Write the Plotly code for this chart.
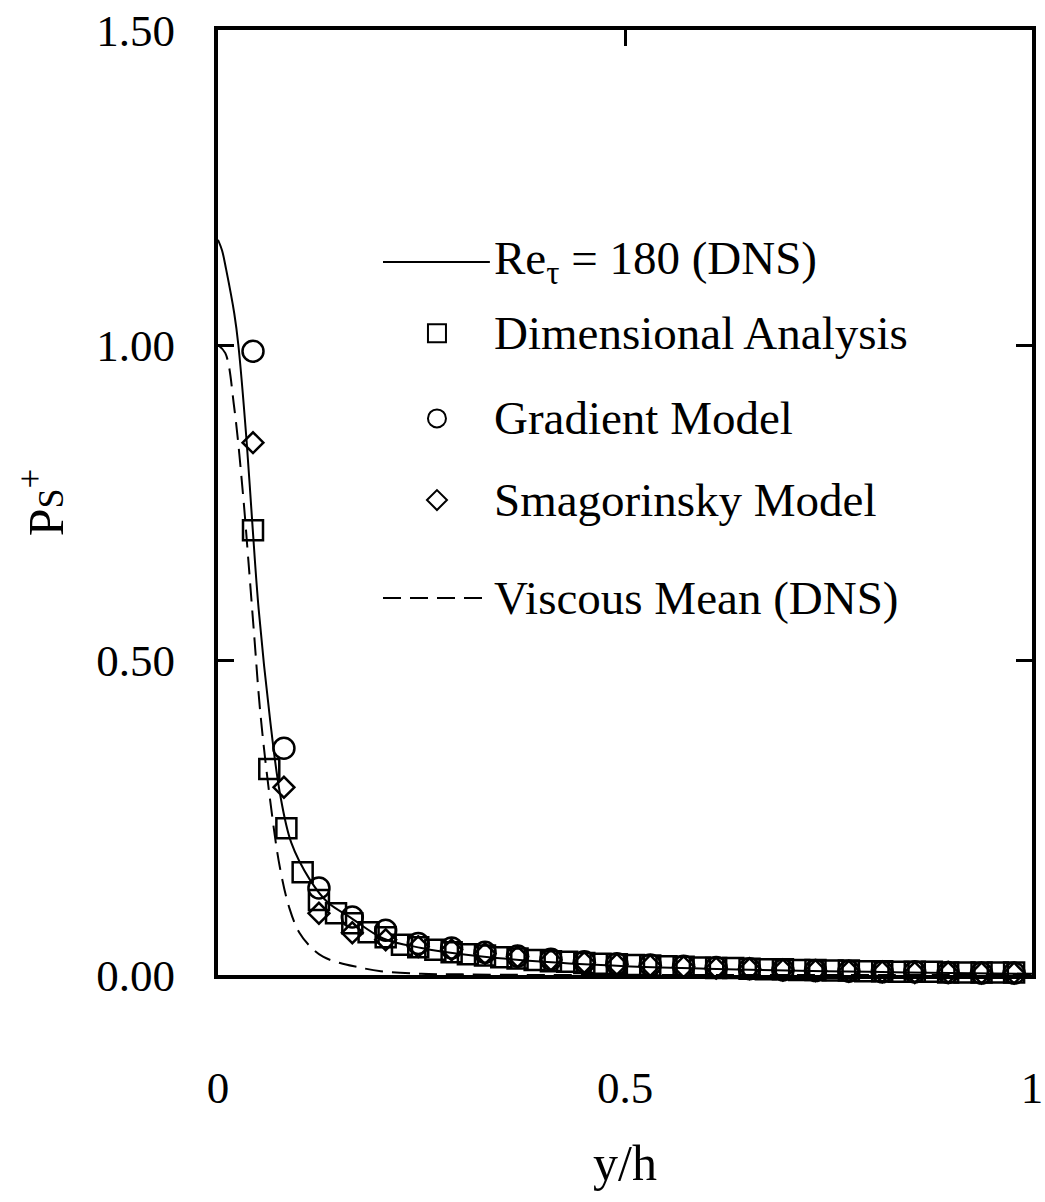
import plotly.graph_objects as go

# ---------------- data ----------------
# DNS Re_tau = 180 (solid)
dns_x = [0.0, 0.005, 0.01, 0.02, 0.025, 0.035, 0.042, 0.05, 0.064, 0.076, 0.09, 0.113,
         0.135, 0.162, 0.203, 0.25, 0.3, 0.4, 0.5, 0.6, 0.7, 0.8, 0.9, 1.0]
dns_y = [1.167, 1.15, 1.12, 1.05, 1.0, 0.85, 0.72, 0.58, 0.405, 0.289, 0.21, 0.151,
         0.115, 0.092, 0.058, 0.043, 0.033, 0.021, 0.014, 0.010, 0.007, 0.005, 0.003, 0.002]

# Viscous mean (DNS) (dashed)
visc_x = [0.0, 0.009, 0.02, 0.031, 0.037, 0.045, 0.052, 0.064, 0.076, 0.088, 0.10, 0.115,
          0.129, 0.15, 0.17, 0.2, 0.25, 0.3, 0.4, 0.6, 0.8, 1.0]
visc_y = [1.0, 0.987, 0.9, 0.759, 0.663, 0.53, 0.416, 0.278, 0.171, 0.105, 0.067, 0.043,
          0.029, 0.019, 0.013, 0.006, 0.002, 0.001, 0.0, 0.0, 0.0, 0.0]

# Dimensional analysis (squares)
da_x = [0.043, 0.063, 0.084, 0.104, 0.124, 0.145, 0.165, 0.185, 0.206, 0.226, 0.246, 0.267,
        0.287, 0.307, 0.328, 0.348, 0.368, 0.389, 0.409, 0.429, 0.450, 0.470, 0.490, 0.511,
        0.531, 0.551, 0.572, 0.592, 0.612, 0.633, 0.653, 0.673, 0.694, 0.714, 0.734, 0.755,
        0.775, 0.795, 0.816, 0.836, 0.856, 0.877, 0.897, 0.917, 0.938, 0.958, 0.978]
da_y = [0.706, 0.327, 0.233, 0.163, 0.119, 0.098, 0.082, 0.068, 0.060, 0.048, 0.044, 0.040,
        0.036, 0.033, 0.031, 0.028, 0.026, 0.024, 0.022, 0.021, 0.019, 0.018, 0.017, 0.016,
        0.015, 0.014, 0.013, 0.012, 0.011, 0.011, 0.010, 0.009, 0.009, 0.008, 0.008, 0.007,
        0.007, 0.006, 0.006, 0.005, 0.005, 0.005, 0.004, 0.004, 0.004, 0.004, 0.004]

# Gradient model (circles)
gm_x = [0.043, 0.081, 0.124, 0.165, 0.206, 0.246, 0.287, 0.328, 0.368, 0.409, 0.450, 0.490,
        0.531, 0.572, 0.612, 0.653, 0.694, 0.734, 0.775, 0.816, 0.856, 0.897, 0.938, 0.978]
gm_y = [0.99, 0.36, 0.138, 0.092, 0.071, 0.050, 0.043, 0.036, 0.030, 0.025, 0.021, 0.018,
        0.016, 0.014, 0.012, 0.010, 0.008, 0.007, 0.006, 0.005, 0.005, 0.004, 0.003, 0.003]

# Smagorinsky model (diamonds)
sm_x = [0.043, 0.081, 0.124, 0.165, 0.206, 0.246, 0.287, 0.328, 0.368, 0.409, 0.450, 0.490,
        0.531, 0.572, 0.612, 0.653, 0.694, 0.734, 0.775, 0.816, 0.856, 0.897, 0.938, 0.978]
sm_y = [0.845, 0.298, 0.098, 0.067, 0.056, 0.045, 0.040, 0.034, 0.029, 0.024, 0.020, 0.017,
        0.015, 0.013, 0.011, 0.010, 0.008, 0.007, 0.006, 0.005, 0.004, 0.004, 0.003, 0.003]

x_ticks = [0, 0.5, 1]
x_tick_text = ["0", "0.5", "1"]
y_ticks = [0, 0.5, 1.0, 1.5]
y_tick_text = ["0.00", "0.50", "1.00", "1.50"]

legend_labels = ["Re<sub>τ</sub> = 180 (DNS)", "Dimensional Analysis", "Gradient Model",
                 "Smagorinsky Model", "Viscous Mean (DNS)"]

FONT = "Liberation Serif, Times New Roman, serif"
DASH = "18px,9px"

fig = go.Figure()
fig.add_trace(go.Scatter(x=dns_x, y=dns_y, mode="lines", line=dict(color="black", width=2, shape="spline"),
                         name=legend_labels[0], showlegend=False))
fig.add_trace(go.Scatter(x=visc_x, y=visc_y, mode="lines",
                         line=dict(color="black", width=2, dash=DASH, shape="spline"),
                         name=legend_labels[4], showlegend=False))
fig.add_trace(go.Scatter(x=da_x, y=da_y, mode="markers", cliponaxis=False,
                         marker=dict(symbol="square-open", size=20, color="black", line=dict(width=2.5)),
                         name=legend_labels[1], showlegend=False))
fig.add_trace(go.Scatter(x=gm_x, y=gm_y, mode="markers", cliponaxis=False,
                         marker=dict(symbol="circle-open", size=21, color="black", line=dict(width=2.5)),
                         name=legend_labels[2], showlegend=False))
fig.add_trace(go.Scatter(x=sm_x, y=sm_y, mode="markers", cliponaxis=False,
                         marker=dict(symbol="diamond-open", size=16, color="black", line=dict(width=2.5)),
                         name=legend_labels[3], showlegend=False))

# ---------------- manual legend ----------------
L_x0, L_x1, L_xm, L_text = 0.2027, 0.334, 0.269, 0.3366
row_y = [0.7545, 0.679, 0.589, 0.5026, 0.399]
shapes = [
    dict(type="line", xref="paper", yref="paper", x0=L_x0, x1=L_x1, y0=row_y[0], y1=row_y[0],
         line=dict(color="black", width=2)),
    dict(type="line", xref="paper", yref="paper", x0=L_x0, x1=L_x1, y0=row_y[4], y1=row_y[4],
         line=dict(color="black", width=2, dash=DASH)),
    dict(type="rect", xref="paper", yref="paper", xsizemode="pixel", ysizemode="pixel",
         xanchor=L_xm, yanchor=row_y[1], x0=-9, x1=9, y0=-9, y1=9, line=dict(color="black", width=2)),
    dict(type="circle", xref="paper", yref="paper", xsizemode="pixel", ysizemode="pixel",
         xanchor=L_xm, yanchor=row_y[2], x0=-9, x1=9, y0=-9, y1=9, line=dict(color="black", width=2)),
    dict(type="path", xref="paper", yref="paper", xsizemode="pixel", ysizemode="pixel",
         xanchor=L_xm, yanchor=row_y[3], path="M -10 0 L 0 10 L 10 0 L 0 -10 Z",
         line=dict(color="black", width=2)),
]
annotations = []
for lab, yy in zip(legend_labels, row_y):
    annotations.append(dict(text=lab, xref="paper", yref="paper", x=L_text, y=yy,
                            xanchor="left", yanchor="middle", showarrow=False,
                            font=dict(family=FONT, size=47, color="black")))

axis_common = dict(showgrid=False, zeroline=False, showline=True, linecolor="black", linewidth=4,
                   mirror="ticks", ticks="inside", ticklen=16, tickwidth=3, tickcolor="black",
                   automargin=False,
                   tickfont=dict(family=FONT, size=45, color="black"))

fig.update_layout(
    width=1045, height=1202,
    margin=dict(l=218, r=13, t=30, b=227),
    paper_bgcolor="white", plot_bgcolor="white",
    shapes=shapes, annotations=annotations,
    xaxis=dict(range=[0, 1], tickvals=x_ticks, ticktext=x_tick_text, ticklabelstandoff=70,
               title=dict(text="y/h", font=dict(family=FONT, size=50, color="black"), standoff=34),
               **axis_common),
    yaxis=dict(range=[0, 1.5], tickvals=y_ticks, ticktext=y_tick_text, ticklabelstandoff=30,
               title=dict(text="P<span style='font-size:36px'>S</span><sup>+</sup>",
                          font=dict(family=FONT, size=50, color="black"), standoff=18),
               **axis_common),
    showlegend=False,
)

fig.write_html("out.html")
